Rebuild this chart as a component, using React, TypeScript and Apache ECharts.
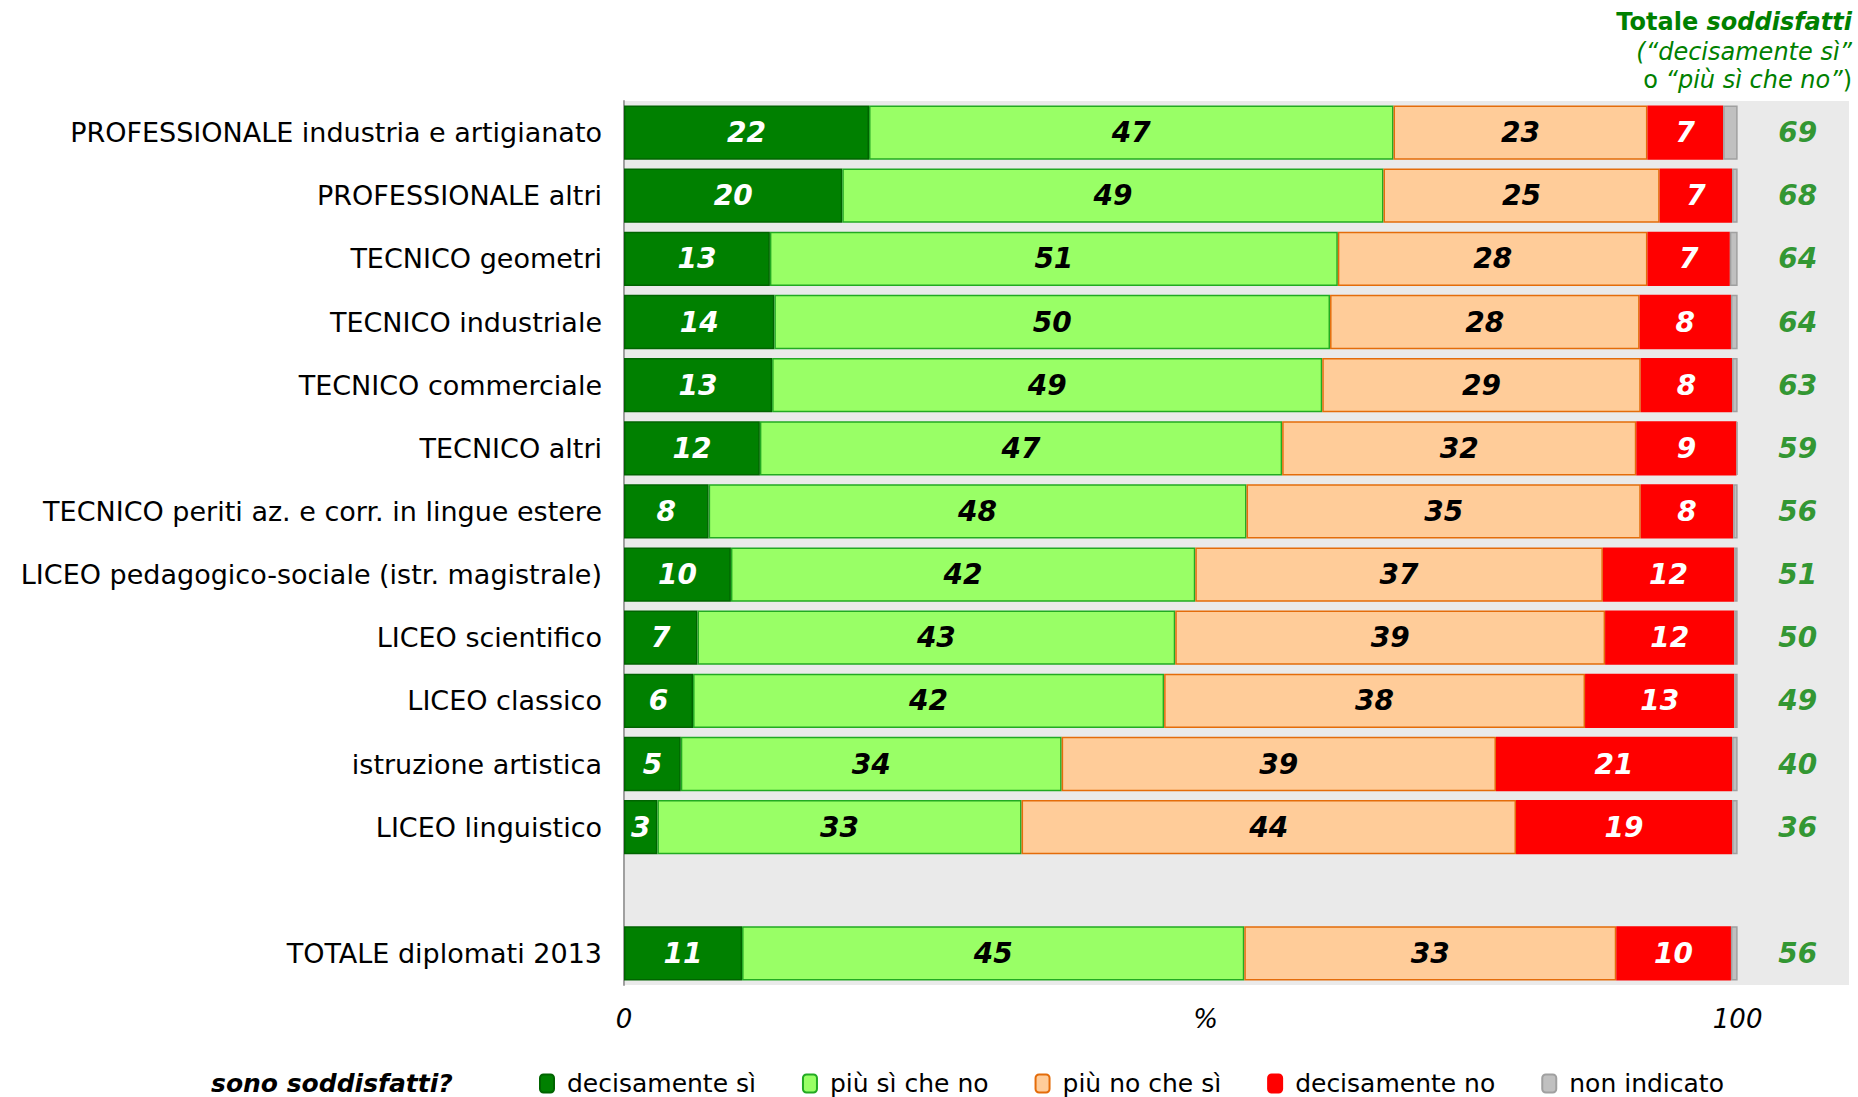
import React, { useEffect, useRef } from "react";
import * as echarts from "echarts";

const categories = [
  "PROFESSIONALE industria e artigianato",
  "PROFESSIONALE altri",
  "TECNICO geometri",
  "TECNICO industriale",
  "TECNICO commerciale",
  "TECNICO altri",
  "TECNICO periti az. e corr. in lingue estere",
  "LICEO pedagogico-sociale (istr. magistrale)",
  "LICEO scientifico",
  "LICEO classico",
  "istruzione artistica",
  "LICEO linguistico",
  "",
  "TOTALE diplomati 2013",
];

const decisamenteSi = [22.0, 19.6, 13.1, 13.5, 13.3, 12.2, 7.6, 9.6, 6.6, 6.2, 5.1, 3.0, null, 10.6];
const piuSiCheNo = [47.1, 48.6, 51.0, 49.9, 49.4, 46.9, 48.3, 41.7, 42.9, 42.3, 34.2, 32.7, null, 45.1];
const piuNoCheSi = [22.8, 24.8, 27.8, 27.8, 28.6, 31.8, 35.4, 36.6, 38.6, 37.8, 39.0, 44.4, null, 33.4];
const decisamenteNo = [6.8, 6.5, 7.4, 8.2, 8.2, 9.0, 8.3, 11.8, 11.6, 13.4, 21.2, 19.4, null, 10.3];
const nonIndicato = [1.3, 0.5, 0.7, 0.6, 0.5, 0.1, 0.4, 0.3, 0.3, 0.3, 0.5, 0.5, null, 0.6];
const totaleSoddisfatti = [69, 68, 64, 64, 63, 59, 56, 51, 50, 49, 40, 36, null, 56];

const seriesNames = ["decisamente sì", "più sì che no", "più no che sì", "decisamente no", "non indicato"];
const xTickLabels = [0, 100];

const FONT = "'DejaVu Sans', Verdana, sans-serif";
const TOTAL_COLUMN_X = 105.4;

export default function App() {
  const ref = useRef<HTMLDivElement>(null);

  useEffect(() => {
    document.body.style.margin = "0";
    if (!ref.current) return;
    const chart = echarts.init(ref.current, undefined, { renderer: "svg" });

    const valueLabel = (color: string) => ({
      show: true,
      position: "inside" as const,
      color,
      fontFamily: FONT,
      fontSize: 28,
      fontWeight: "bold" as const,
      fontStyle: "italic" as const,
      formatter: (p: any) => (p.value == null ? "" : String(Math.round(p.value))),
    });

    const mk = (d: (number | null)[]) => d.map((v) => (v == null ? "-" : v));

    const styles = [
      { fill: "#008000", border: "#006400", label: "#ffffff", show: true },
      { fill: "#99FF66", border: "#22AA22", label: "#000000", show: true },
      { fill: "#FFCC99", border: "#E46C0A", label: "#000000", show: true },
      { fill: "#FF0000", border: "#FF0000", label: "#ffffff", show: true },
      { fill: "#C0C0C0", border: "#A0A0A0", label: "#000000", show: false },
    ];
    const dataSets = [decisamenteSi, piuSiCheNo, piuNoCheSi, decisamenteNo, nonIndicato];

    const barSeries = dataSets.map((d, i) => ({
      name: seriesNames[i],
      type: "bar" as const,
      stack: "tot",
      barCategoryGap: "14%",
      data: mk(d),
      itemStyle: { color: styles[i].fill, borderColor: styles[i].border, borderWidth: 1.5 },
      label: styles[i].show ? valueLabel(styles[i].label) : { show: false },
      emphasis: { disabled: true },
    }));

    const totalSeries = {
      name: "Totale soddisfatti",
      type: "scatter" as const,
      symbolSize: 0,
      data: totaleSoddisfatti
        .map((v, i) => (v == null ? null : { value: [TOTAL_COLUMN_X, i], total: v }))
        .filter((x) => x != null),
      label: {
        show: true,
        position: "inside" as const,
        color: "#008000",
        fontFamily: FONT,
        fontSize: 28,
        fontWeight: "bold" as const,
        fontStyle: "italic" as const,
        formatter: (p: any) => String(p.data.total),
      },
      emphasis: { disabled: true },
      z: 5,
    };

    chart.setOption({
      animation: false,
      textStyle: { fontFamily: FONT },
      grid: {
        left: 624,
        right: 9,
        top: 101,
        bottom: 112,
        show: true,
        backgroundColor: "#EAEAEA",
        borderWidth: 0,
      },
      xAxis: {
        type: "value",
        min: 0,
        max: 110,
        interval: 100,
        splitLine: { show: false },
        axisLine: { show: false },
        axisTick: { show: false },
        axisLabel: {
          showMaxLabel: false,
          color: "#000",
          fontFamily: FONT,
          fontStyle: "italic",
          fontSize: 26,
          margin: 21,
          formatter: (v: number) => (xTickLabels.includes(v) ? String(v) : ""),
        },
        name: "%",
        nameLocation: "middle",
        nameGap: 21,
        nameMoveOverlap: false,
        nameTextStyle: {
          color: "#000",
          fontFamily: FONT,
          fontStyle: "italic",
          fontSize: 26,
          verticalAlign: "top",
          padding: [0, 62, 0, 0],
        },
      },
      yAxis: {
        type: "category",
        inverse: true,
        data: categories,
        axisTick: { show: false },
        axisLine: { show: true, lineStyle: { color: "#A0A0A0", width: 2 } },
        axisLabel: {
          color: "#000",
          fontFamily: FONT,
          fontSize: 27,
          margin: 22,
        },
      },
      legend: {
        data: seriesNames,
        left: 539,
        top: 1071,
        padding: 0,
        itemWidth: 14,
        itemHeight: 18,
        itemGap: 46,
        textStyle: { color: "#000", fontFamily: FONT, fontSize: 25, padding: [0, 0, 0, 8] },
        selectedMode: false,
      },
      graphic: [
        {
          type: "text",
          left: 211,
          top: 1071,
          style: {
            text: "sono soddisfatti?",
            fill: "#000",
            font: `italic bold 25px ${FONT}`,
          },
        },
        {
          type: "text",
          right: 6,
          top: 10,
          style: {
            text: "{b|Totale }{bi|soddisfatti}",
            align: "right",
            rich: {
              b: { fill: "#008000", font: `bold 24px ${FONT}` },
              bi: { fill: "#008000", font: `italic bold 24px ${FONT}` },
            },
          },
        },
        {
          type: "text",
          right: 6,
          top: 40,
          style: {
            text: "(“decisamente sì”",
            fill: "#008000",
            font: `italic 24px ${FONT}`,
          },
        },
        {
          type: "text",
          right: 6,
          top: 68,
          style: {
            text: "{n|o }{i|“più sì che no”}{n|)}",
            rich: {
              n: { fill: "#008000", font: `24px ${FONT}` },
              i: { fill: "#008000", font: `italic 24px ${FONT}` },
            },
          },
        },
      ],
      series: [...barSeries, totalSeries],
    });

    return () => chart.dispose();
  }, []);

  return <div ref={ref} style={{ width: 1858, height: 1097 }} />;
}
